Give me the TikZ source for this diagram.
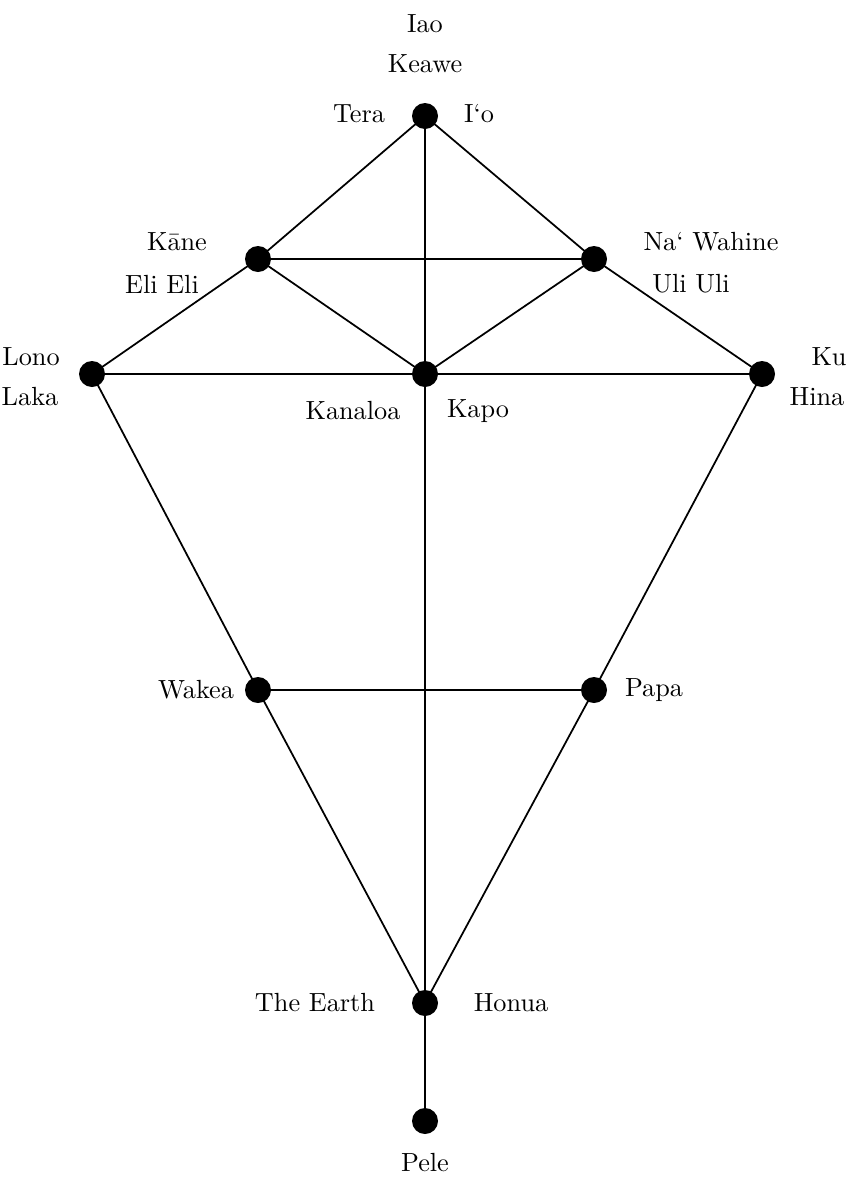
\documentclass[tikz,border=0pt]{standalone}
\usetikzlibrary{backgrounds}
\begin{document}
\begin{tikzpicture}[x=0.4pt,y=-0.4pt,
  dot/.style={circle,fill=black,inner sep=0pt,minimum size=10.4pt},
  edge/.style={line width=0.7pt},
  lbl/.style={inner sep=0pt,font=\fontsize{10.5}{12}\selectfont}]
\useasboundingbox (0,0) rectangle (850,1180);
% nodes
\node[dot] (top) at (425,116) {};
\node[dot] (kane) at (258,259) {};
\node[dot] (nawa) at (594,259) {};
\node[dot] (lono) at (92,374) {};
\node[dot] (kana) at (425,374) {};
\node[dot] (ku) at (762,374) {};
\node[dot] (wakea) at (258,690) {};
\node[dot] (papa) at (594,690) {};
\node[dot] (earth) at (425,1003) {};
\node[dot] (pele) at (425,1121) {};
% edges
\begin{scope}[on background layer]
\draw[edge] (top.center) -- (kane.center);
\draw[edge] (top.center) -- (nawa.center);
\draw[edge] (top.center) -- (kana.center);
\draw[edge] (kana.center) -- (earth.center);
\draw[edge] (earth.center) -- (pele.center);
\draw[edge] (kane.center) -- (nawa.center);
\draw[edge] (kane.center) -- (kana.center);
\draw[edge] (nawa.center) -- (kana.center);
\draw[edge] (kane.center) -- (lono.center);
\draw[edge] (nawa.center) -- (ku.center);
\draw[edge] (lono.center) -- (kana.center);
\draw[edge] (kana.center) -- (ku.center);
\draw[edge] (lono.center) -- (wakea.center);
\draw[edge] (ku.center) -- (papa.center);
\draw[edge] (wakea.center) -- (papa.center);
\draw[edge] (wakea.center) -- (earth.center);
\draw[edge] (papa.center) -- (earth.center);
\end{scope}
% labels
\node[lbl] (lIao) at (425,24) {Iao};
\node[lbl] (lKeawe) at (425,64) {Keawe};
\node[lbl] (lTera) at (359,114) {Tera};
\node[lbl] (lIo) at (479,114) {I`o};
\node[lbl] (lKane) at (177,242) {K\=ane};
\node[lbl] (lEli) at (162,284) {Eli Eli};
\node[lbl] (lNa) at (711,242) {Na` Wahine};
\node[lbl] (lUli) at (691,284) {Uli Uli};
\node[lbl] (lLono) at (31,357) {Lono};
\node[lbl] (lLaka) at (30,397) {Laka};
\node[lbl] (lKanaloa) at (353,411) {Kanaloa};
\node[lbl] (lKapo) at (478,411) {Kapo};
\node[lbl] (lKu) at (829,357) {Ku};
\node[lbl] (lHina) at (817,397) {Hina};
\node[lbl] (lWakea) at (196,690) {Wakea};
\node[lbl] (lPapa) at (654,690) {Papa};
\node[lbl] (lEarth) at (315,1003) {The Earth};
\node[lbl] (lHonua) at (511,1003) {Honua};
\node[lbl] (lPele) at (425,1163) {Pele};
\end{tikzpicture}
\end{document}
